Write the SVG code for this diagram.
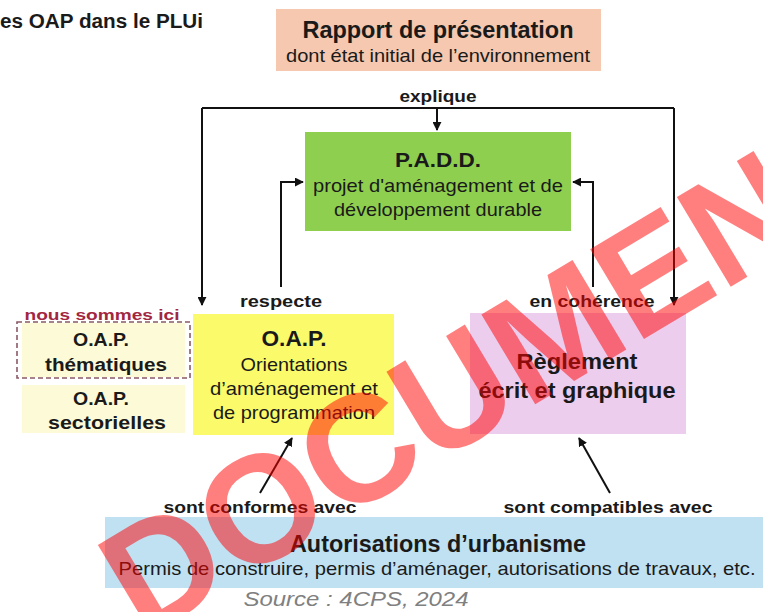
<svg xmlns="http://www.w3.org/2000/svg" width="763" height="612" viewBox="0 0 763 612">
<defs>
<style>
text{font-family:"Liberation Sans",Arial,sans-serif;fill:#1a1a1a;text-anchor:middle}
.b{font-weight:bold}
.lbl{font-weight:bold;font-size:16px}
.conn{fill:none;stroke:#111;stroke-width:2}
</style>
<marker id="ah" viewBox="0 0 10 10" refX="9" refY="5" markerWidth="4.5" markerHeight="4.5" orient="auto" markerUnits="strokeWidth">
<path d="M0,0 L10,5 L0,10 z" fill="#111"/>
</marker>
</defs>
<rect width="763" height="612" fill="#fff"/>
<text class="b" x="0" y="28" textLength="203" lengthAdjust="spacingAndGlyphs" style="text-anchor:start;font-size:20px">es OAP dans le PLUi</text>

<g id="rapport">
<rect x="276" y="9" width="325" height="62" fill="#f5c8af"/>
<text class="b" x="438" y="38" font-size="23" textLength="271" lengthAdjust="spacingAndGlyphs">Rapport de présentation</text>
<text x="438" y="62" font-size="18.5" textLength="304" lengthAdjust="spacingAndGlyphs">dont état initial de l’environnement</text>
</g>

<g id="padd">
<rect x="305" y="132" width="266" height="99" fill="#8fcf4f"/>
<text class="b" x="438" y="167" font-size="21" textLength="86" lengthAdjust="spacingAndGlyphs">P.A.D.D.</text>
<text x="438" y="192" font-size="18.5" textLength="250" lengthAdjust="spacingAndGlyphs">projet d'aménagement et de</text>
<text x="438" y="216" font-size="18.5" textLength="208" lengthAdjust="spacingAndGlyphs">développement durable</text>
</g>

<g id="oap">
<rect x="193" y="314" width="201" height="121" fill="#fafa6a"/>
<text class="b" x="294" y="346" font-size="22" textLength="65" lengthAdjust="spacingAndGlyphs">O.A.P.</text>
<text x="294" y="371" font-size="19" textLength="107" lengthAdjust="spacingAndGlyphs">Orientations</text>
<text x="294" y="395" font-size="19" textLength="168" lengthAdjust="spacingAndGlyphs">d’aménagement et</text>
<text x="294" y="419" font-size="19" textLength="162" lengthAdjust="spacingAndGlyphs">de programmation</text>
</g>

<g id="reglement">
<rect x="470" y="313" width="216" height="121" fill="#edcdee"/>
<text class="b" x="577" y="369" font-size="22" textLength="121" lengthAdjust="spacingAndGlyphs">Règlement</text>
<text class="b" x="577" y="398" font-size="22" textLength="197" lengthAdjust="spacingAndGlyphs">écrit et graphique</text>
</g>

<g id="oap-thematiques">
<text class="b" x="102" y="320" font-size="15" textLength="155" lengthAdjust="spacingAndGlyphs" style="fill:#a3263f">nous sommes ici</text>
<rect x="22" y="323" width="163" height="54" fill="#fdfad8"/>
<rect x="17" y="322" width="173" height="56" fill="none" stroke="#8a5a66" stroke-width="1.6" stroke-dasharray="5,3"/>
<text class="b" x="101" y="346" font-size="18" textLength="56" lengthAdjust="spacingAndGlyphs">O.A.P.</text>
<text class="b" x="106" y="371" font-size="18" textLength="122" lengthAdjust="spacingAndGlyphs">thématiques</text>
</g>

<g id="oap-sectorielles">
<rect x="22" y="385" width="163" height="48" fill="#fdfad8"/>
<text class="b" x="101" y="405" font-size="18" textLength="56" lengthAdjust="spacingAndGlyphs">O.A.P.</text>
<text class="b" x="107" y="429" font-size="18" textLength="118" lengthAdjust="spacingAndGlyphs">sectorielles</text>
</g>

<g id="autorisations">
<rect x="105" y="517" width="658" height="71" fill="#bfe1f2"/>
<text class="b" x="438" y="552" font-size="23" textLength="296" lengthAdjust="spacingAndGlyphs">Autorisations d’urbanisme</text>
<text x="437" y="575" font-size="19" textLength="637" lengthAdjust="spacingAndGlyphs">Permis de construire, permis d’aménager, autorisations de travaux, etc.</text>
</g>

<text x="356" y="606" font-size="21" textLength="225" lengthAdjust="spacingAndGlyphs" style="font-style:italic;fill:#808080">Source : 4CPS, 2024</text>

<g id="connectors">
<path class="conn" d="M202,108 H674"/>
<path class="conn" d="M202,108 V305" marker-end="url(#ah)"/>
<path class="conn" d="M674,108 V305" marker-end="url(#ah)"/>
<path class="conn" d="M437,108 V130" marker-end="url(#ah)"/>
<path class="conn" d="M281,287 V182 H303" marker-end="url(#ah)"/>
<path class="conn" d="M593,287 V182 H573" marker-end="url(#ah)"/>
<path class="conn" d="M260,493 L292,438" marker-end="url(#ah)"/>
<path class="conn" d="M610,493 L579,438" marker-end="url(#ah)"/>
<text class="lbl" x="438" y="102" textLength="77" lengthAdjust="spacingAndGlyphs">explique</text>
<text class="lbl" x="281" y="307" textLength="82" lengthAdjust="spacingAndGlyphs">respecte</text>
<text class="lbl" x="592" y="307" textLength="125" lengthAdjust="spacingAndGlyphs">en cohérence</text>
<text class="lbl" x="260" y="513" textLength="193" lengthAdjust="spacingAndGlyphs">sont conformes avec</text>
<text class="lbl" x="608" y="513" textLength="209" lengthAdjust="spacingAndGlyphs">sont compatibles avec</text>
</g>

<text class="b" transform="translate(143,640) rotate(-31)" x="0" y="0" font-size="152" style="text-anchor:start;fill:#ff0000;fill-opacity:0.5">DOCUMENT</text>
</svg>
